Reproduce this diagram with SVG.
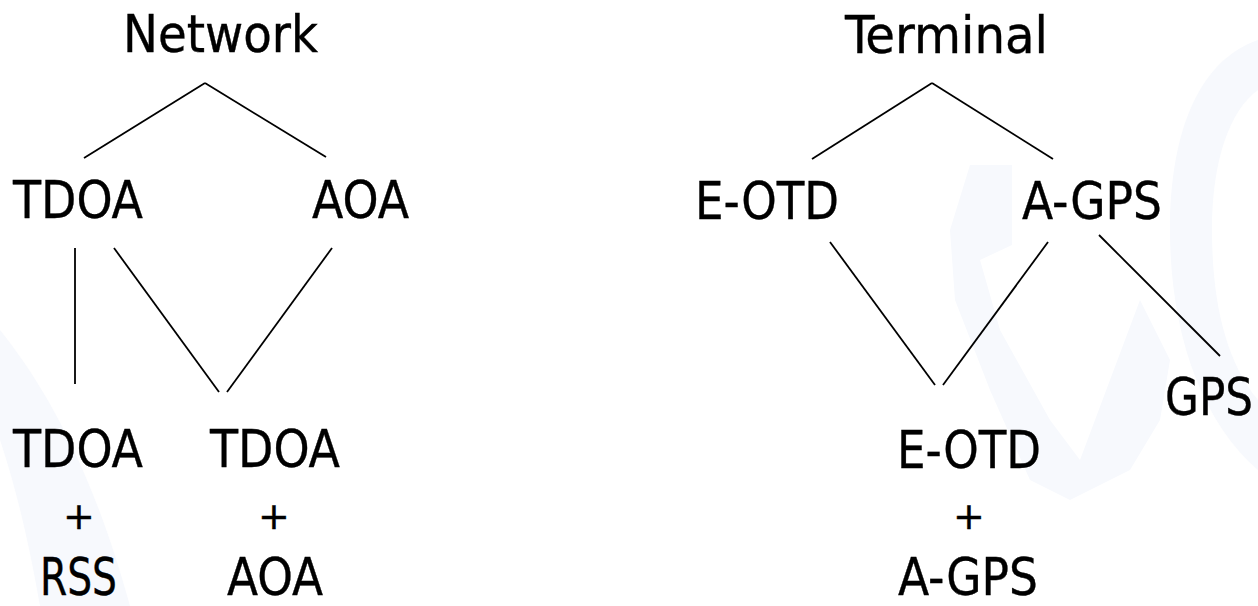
<svg xmlns="http://www.w3.org/2000/svg" width="1258" height="606" viewBox="0 0 1258 606">
<style>
.bg{fill:#f7f9fd}
.lbl{font-family:"DejaVu Sans Condensed","DejaVu Sans",sans-serif;font-size:52px;fill:#000;stroke:#000;stroke-width:0.35}
.plus{font-family:"DejaVu Sans",sans-serif;font-size:38px;fill:#000;stroke:#000;stroke-width:0.4;text-anchor:middle}
#connectors line{stroke:#000;stroke-width:1.8;stroke-linecap:butt}
</style>
<rect width="1258" height="606" fill="#fff"/>
<g id="watermark">
<path class="bg" d="M0 330 C40 380 90 460 130 606 L40 606 C25 520 10 470 0 440 Z"/>
<path class="bg" d="M970 165 L1012 165 L1012 245 L980 260 L1000 330 L1050 420 L1080 460 L1110 380 L1140 300 L1170 360 L1160 420 L1130 470 L1070 500 L1030 480 L990 390 L955 300 L950 230 Z"/>
<path class="bg" d="M1258 40 C1200 60 1170 130 1170 230 C1170 330 1200 420 1258 470 L1258 400 C1225 360 1212 300 1212 230 C1212 160 1230 110 1258 90 Z"/>
</g>
<g id="connectors">
<line x1="205" y1="83" x2="84" y2="158"/>
<line x1="205" y1="83" x2="326" y2="157"/>
<line x1="75" y1="248" x2="75" y2="384"/>
<line x1="114" y1="248" x2="219" y2="392"/>
<line x1="332" y1="248" x2="227" y2="392"/>
<line x1="932" y1="83" x2="812" y2="159"/>
<line x1="932" y1="83" x2="1053" y2="159"/>
<line x1="830" y1="242" x2="935" y2="385"/>
<line x1="1048" y1="242" x2="943" y2="385"/>
<line x1="1099" y1="235" x2="1220" y2="356"/>
</g>
<g id="node-network"><text class="lbl" x="123" y="52" textLength="195" lengthAdjust="spacingAndGlyphs">Network</text></g>
<g id="node-tdoa"><text class="lbl" x="13" y="218" textLength="130" lengthAdjust="spacingAndGlyphs">TDOA</text></g>
<g id="node-aoa"><text class="lbl" x="312" y="218" textLength="97" lengthAdjust="spacingAndGlyphs">AOA</text></g>
<g id="node-tdoa-rss">
<text class="lbl" x="13" y="467" textLength="130" lengthAdjust="spacingAndGlyphs">TDOA</text>
<text class="plus" x="79" y="529">+</text>
<text class="lbl" x="40" y="595" textLength="77" lengthAdjust="spacingAndGlyphs">RSS</text>
</g>
<g id="node-tdoa-aoa">
<text class="lbl" x="210" y="467" textLength="130" lengthAdjust="spacingAndGlyphs">TDOA</text>
<text class="plus" x="274" y="529">+</text>
<text class="lbl" x="227" y="595" textLength="96" lengthAdjust="spacingAndGlyphs">AOA</text>
</g>
<g id="node-terminal"><text class="lbl" x="845" y="53" textLength="203" lengthAdjust="spacingAndGlyphs">Terminal</text></g>
<g id="node-eotd"><text class="lbl" x="695" y="219" textLength="144" lengthAdjust="spacingAndGlyphs">E-OTD</text></g>
<g id="node-agps"><text class="lbl" x="1022" y="219" textLength="140" lengthAdjust="spacingAndGlyphs">A-GPS</text></g>
<g id="node-gps"><text class="lbl" x="1165" y="415" textLength="88" lengthAdjust="spacingAndGlyphs">GPS</text></g>
<g id="node-eotd-agps">
<text class="lbl" x="897" y="468" textLength="144" lengthAdjust="spacingAndGlyphs">E-OTD</text>
<text class="plus" x="969" y="529">+</text>
<text class="lbl" x="898" y="595" textLength="140" lengthAdjust="spacingAndGlyphs">A-GPS</text>
</g>
</svg>
